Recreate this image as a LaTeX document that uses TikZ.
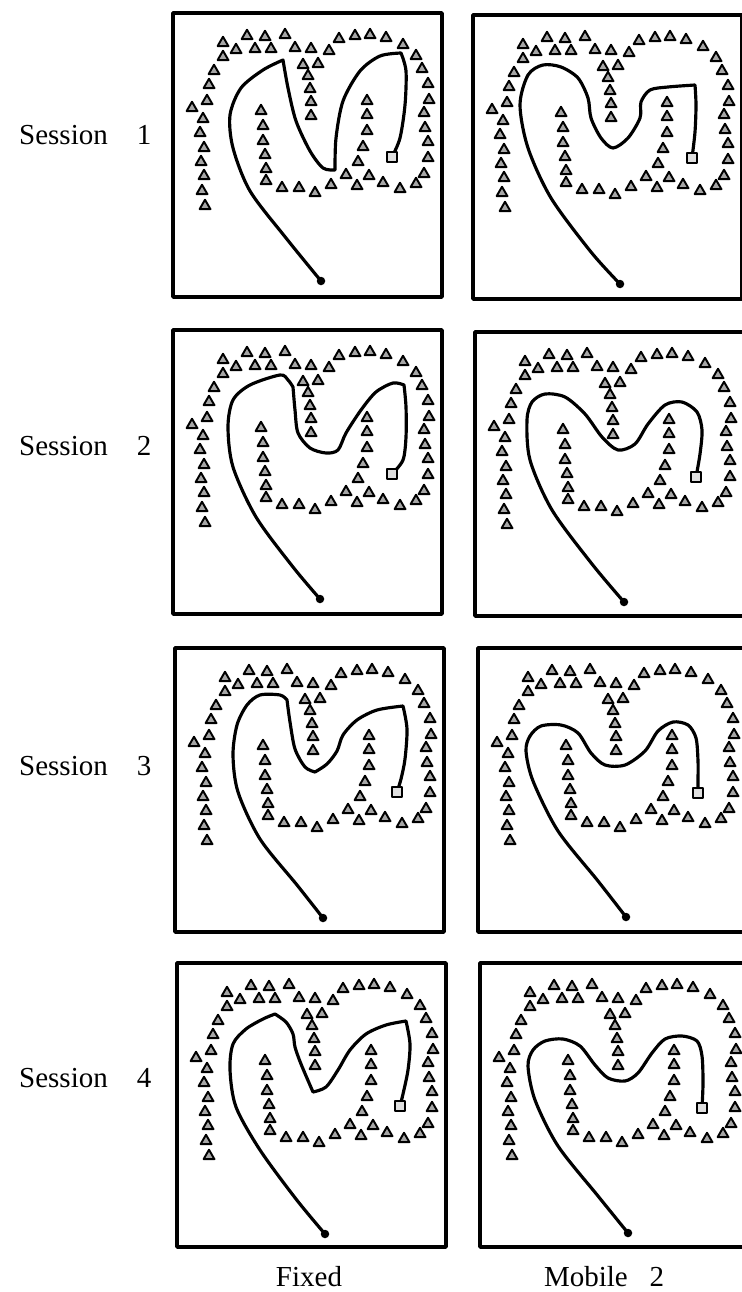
\documentclass[tikz,border=0pt]{standalone}
\usepackage{fontspec}
\setmainfont{Liberation Serif}
\usepackage{tikz}
\usetikzlibrary{shapes.geometric}
\tikzset{
  every picture/.style={line join=round, line cap=round},
  frame/.style={line width=2pt},
  route/.style={line width=1.8pt},
  obstacle/.style={regular polygon, regular polygon sides=3, draw, line width=1.1pt,
    fill=gray!70, inner sep=0pt, minimum size=2.5mm},
  goalbox/.style={draw, line width=0.9pt, fill=gray!25, inner sep=0pt, minimum size=1.9mm},
  startdot/.style={circle, fill, inner sep=0pt, minimum size=1.7mm},
  label/.style={font=\fontsize{16.5}{19}\selectfont},
}
% obstacle field, same for every run
\newcommand{\obstacles}{%
  \foreach \x/\y in {50/30,74/23,92/24,112/22,63/37,82/36,98/36,122/35,138/36,
    50/44,41/58,36/72,34/88,19/95,30/106,27/120,31/135,28/149,31/163,29/178,32/193,
    130/52,145/51,135/63,137/76,138/89,138/103,
    156/38,166/26,182/23,197/22,213/25,230/32,243/43,249/56,255/71,256/87,251/100,252/115,255/129,255/145,251/161,243/171,227/176,210/170,196/163,184/173,
    194/88,194/102,194/118,190/134,185/149,173/162,158/172,
    88/98,90/113,90/128,92/142,93/156,93/168,
    109/175,126/175,142/180}
    \node[obstacle] at (\x,\y) {};}
\newcommand{\arena}{\draw[frame] (0,0) rectangle (269,284); \obstacles}

\begin{document}
\begin{tikzpicture}[x=0.2mm,y=-0.2mm]
\useasboundingbox (0,0) rectangle (741,1292);

\node[label,anchor=west] (s1) at (13,135) {Session\quad 1};
\node[label,anchor=west] (s2) at (13,446) {Session\quad 2};
\node[label,anchor=west] (s3) at (13,766) {Session\quad 3};
\node[label,anchor=west] (s4) at (13,1078) {Session\quad 4};
\node[label] (fixed) at (309,1277) {Fixed};
\node[label] (mobile) at (604,1277) {Mobile\enspace\ 2};

% session 1
\begin{scope}[shift={(173,13)}]
\arena
\draw[route] plot[smooth] coordinates {(148,268) (113,225) (77,178) (60,135) (57,102) (68,75) (90,57) (110,47)}
  -- plot[smooth] coordinates {(110,47) (115,75) (123,108) (137,138) (150,155) (162,157)}
  -- plot[smooth] coordinates {(162,157) (163,125) (170,88) (187,58) (207,43) (228,40)}
  -- plot[smooth] coordinates {(228,40) (233,58) (232,92) (227,125) (219,144)};
\node[startdot] (a1) at (148,268) {};
\node[goalbox] (g1) at (219,144) {};
\end{scope}
\begin{scope}[shift={(473,15)}]
\arena
\draw[route] plot[smooth] coordinates {(147,269) (118,237) (78,183) (55,133) (47,90) (55,60) (70,50) (88,52) (105,63) (115,83) (118,103) (128,123) (140,133) (155,123) (167,103) (168,87) (177,75) (195,72) (222,70)}
  -- plot[smooth] coordinates {(222,70) (223,90) (222,117) (219,143)};
\node[startdot] (b1) at (147,269) {};
\node[goalbox] (h1) at (219,143) {};
\end{scope}

% session 2
\begin{scope}[shift={(173,330)}]
\arena
\draw[route] plot[smooth] coordinates {(147,269) (120,237) (83,187) (60,137) (55,97) (60,70) (77,55) (107,45) (115,50) (120,57)}
  -- plot[smooth] coordinates {(120,57) (122,80) (125,103) (137,118) (153,123) (165,120) (173,103) (188,80) (203,62) (220,53) (231,55)}
  -- plot[smooth] coordinates {(231,55) (233,77) (233,107) (230,130) (219,144)};
\node[startdot] (a2) at (147,269) {};
\node[goalbox] (g2) at (219,144) {};
\end{scope}
\begin{scope}[shift={(475,332)}]
\arena
\draw[route] plot[smooth] coordinates {(149,270) (117,232) (77,178) (55,128) (52,88) (57,70) (70,62) (90,65) (110,82) (127,105) (143,118) (160,112) (173,92) (190,73) (207,70) (222,80) (227,98) (225,122) (221,145)};
\node[startdot] (b2) at (149,270) {};
\node[goalbox] (h2) at (221,145) {};
\end{scope}

% session 3
\begin{scope}[shift={(175,648)}]
\arena
\draw[route] plot[smooth] coordinates {(148,270) (122,237) (85,191) (63,144) (58,107) (62,77) (72,57) (85,47) (105,47) (112,52)}
  -- plot[smooth] coordinates {(112,52) (115,74) (120,101) (130,119) (140,124)}
  -- plot[smooth] coordinates {(140,124) (152,116) (162,103) (168,87) (182,72) (202,62) (228,58)}
  -- plot[smooth] coordinates {(228,58) (232,81) (230,111) (226,131) (222,144)};
\node[startdot] (a3) at (148,270) {};
\node[goalbox] (g3) at (222,144) {};
\end{scope}
\begin{scope}[shift={(478,648)}]
\arena
\draw[route] plot[smooth] coordinates {(148,269) (120,233) (80,183) (55,133) (48,103) (52,88) (63,78) (83,77) (100,85) (113,105) (127,117) (147,117) (167,103) (180,83) (195,74) (210,77) (218,90) (220,113) (220,133) (220,145)};
\node[startdot] (b3) at (148,269) {};
\node[goalbox] (h3) at (220,145) {};
\end{scope}

% session 4
\begin{scope}[shift={(177,963)}]
\arena
\draw[route] plot[smooth] coordinates {(148,271) (119,236) (83,187) (59,144) (53,107) (56,81) (69,66) (86,56) (98,51)}
  -- plot[smooth] coordinates {(98,51) (109,59) (116,71) (118,84) (124,101) (136,129)}
  -- plot[smooth] coordinates {(136,129) (149,124) (161,107) (173,87) (189,71) (209,62) (229,58)}
  -- plot[smooth] coordinates {(229,58) (233,81) (231,107) (226,131) (223,143)};
\node[startdot] (a4) at (148,271) {};
\node[goalbox] (g4) at (223,143) {};
\end{scope}
\begin{scope}[shift={(480,963)}]
\arena
\draw[route] plot[smooth] coordinates {(148,270) (118,233) (78,183) (55,137) (48,103) (53,87) (65,78) (83,76) (100,83) (115,102) (128,115) (145,118) (158,110) (172,90) (185,76) (202,73) (217,78) (222,93) (223,120) (222,145)};
\node[startdot] (b4) at (148,270) {};
\node[goalbox] (h4) at (222,145) {};
\end{scope}
\end{tikzpicture}
\end{document}
